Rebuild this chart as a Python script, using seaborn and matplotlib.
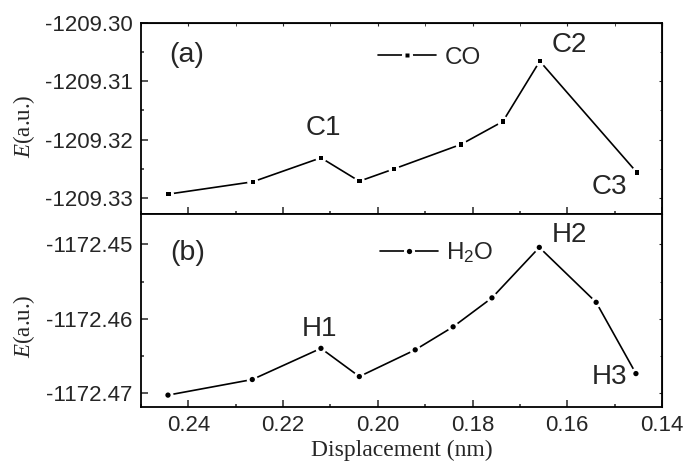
import matplotlib
matplotlib.use("Agg")
import matplotlib.pyplot as plt
from matplotlib.lines import Line2D
from matplotlib.legend_handler import HandlerTuple
from matplotlib.ticker import MultipleLocator, FormatStrFormatter
import seaborn as sns

# displacement (nm) and total energy (a.u.)
co_x = [0.2442, 0.2264, 0.2120, 0.2039, 0.1966, 0.1824, 0.1736, 0.1658, 0.1453]
co_e = [-1209.3293, -1209.3272, -1209.3231, -1209.3271, -1209.3250,
        -1209.3208, -1209.3169, -1209.3066, -1209.3256]
h2o_x = [0.2443, 0.2265, 0.2120, 0.2039, 0.1921, 0.1841, 0.1759, 0.1659, 0.1539, 0.1455]
h2o_e = [-1172.4703, -1172.4682, -1172.4640, -1172.4678, -1172.4642,
         -1172.4611, -1172.4572, -1172.4504, -1172.4578, -1172.4674]
co_tags = {"C1": 2, "C2": 7, "C3": 8}
h2o_tags = {"H1": 2, "H2": 7, "H3": 9}

sns.set_style("white")
plt.rcParams["font.family"] = ["Liberation Sans", "DejaVu Sans"]
plt.rcParams["axes.unicode_minus"] = False
plt.rcParams["mathtext.fontset"] = "custom"
plt.rcParams["mathtext.rm"] = "Liberation Serif"
plt.rcParams["mathtext.it"] = "Liberation Serif:italic"
plt.rcParams["mathtext.sf"] = "Liberation Sans"

fig = plt.figure(figsize=(6.85, 4.71), dpi=100)
ax1 = fig.add_axes([0.2058, 0.5456, 0.7606, 0.4066])
ax2 = fig.add_axes([0.2058, 0.1359, 0.7606, 0.4098], sharex=ax1)

def draw(ax, x, e, mk, msize, tags, offs):
    sns.lineplot(x=x, y=e, color="black", lw=1.2, sort=False, estimator=None, ax=ax)
    sns.scatterplot(x=x, y=e, marker="o", s=64, color="white", edgecolor="none", ax=ax, zorder=3)
    sns.scatterplot(x=x, y=e, marker=mk, s=msize ** 2, color="black", edgecolor="none", ax=ax, zorder=4)
    for (t, i), off in zip(tags.items(), offs):
        ax.annotate(t, (x[i], e[i]), xytext=off, textcoords="offset points",
                    ha="center", va="center", fontsize=20)
    h = (Line2D([], [], color="black", lw=1.2),
         Line2D([], [], ls="none", marker="o", ms=8, mfc="white", mec="none"),
         Line2D([], [], ls="none", marker=mk, ms=msize, mfc="black", mec="none"))
    return h

h1 = draw(ax1, co_x, co_e, "s", 3.2, co_tags, [(1.7, 21.8), (21.5, 11.3), (-19.7, -10.3)])
h2 = draw(ax2, h2o_x, h2o_e, "o", 3.8, h2o_tags, [(-1.2, 14), (22, 9), (-19, -2.7)])

ax1.legend([h1], ["CO"], handler_map={tuple: HandlerTuple(ndivide=1)}, loc="center left",
           bbox_to_anchor=(0.455, 0.816), frameon=False, fontsize=17.5, borderpad=0,
           borderaxespad=0, handlelength=2.4, handletextpad=0.33)
ax2.legend([h2], [r"H$_\mathsf{2}$O"], handler_map={tuple: HandlerTuple(ndivide=1)}, loc="center left",
           bbox_to_anchor=(0.459, 0.80), frameon=False, fontsize=17.5, borderpad=0,
           borderaxespad=0, handlelength=2.4, handletextpad=0.33)

ax1.text(0.087, 0.83, "(a)", transform=ax1.transAxes, ha="center", va="center", fontsize=20.5)
ax2.text(0.090, 0.798, "(b)", transform=ax2.transAxes, ha="center", va="center", fontsize=20.5)

ax1.set_xlim(0.25, 0.14)
ax1.set_ylim(-1209.3327, -1209.30)
ax2.set_ylim(-1172.4719, -1172.4459)

for ax in (ax1, ax2):
    ax.xaxis.set_major_locator(MultipleLocator(0.02))
    ax.xaxis.set_minor_locator(MultipleLocator(0.01))
    ax.yaxis.set_major_locator(MultipleLocator(0.01))
    ax.yaxis.set_minor_locator(MultipleLocator(0.005))
    ax.yaxis.set_major_formatter(FormatStrFormatter("%.2f"))
    ax.xaxis.set_major_formatter(FormatStrFormatter("%.2f"))
    ax.tick_params(which="major", direction="in", length=5, width=1.1, labelsize=16,
                   left=True, bottom=True, top=False, right=False, pad=6)
    ax.tick_params(which="minor", direction="in", length=2.5, width=1.1,
                   left=True, bottom=True, top=False, right=False)
    for s in ax.spines.values():
        s.set_linewidth(1.3)
        s.set_color("black")
    ax.set_xlabel("")
    ax.set_ylabel("")
    sec = ax.secondary_yaxis("right")
    sec.set_yticks(ax.get_yticks())
    sec.tick_params(direction="in", length=2, labelright=False)
    sec.yaxis.set_minor_locator(MultipleLocator(0.005))
    sec.tick_params(which="minor", direction="in", length=1.5)
ax1.tick_params(axis="x", labelbottom=False)
top = ax1.secondary_xaxis("top")
top.xaxis.set_major_locator(MultipleLocator(0.02))
top.xaxis.set_minor_locator(MultipleLocator(0.01))
top.tick_params(which="both", direction="in", length=2, labeltop=False)

fig.text(24 / 685, 1 - 126 / 471, "$E$(a.u.)", rotation=90, ha="center", va="center",
         fontsize=16.5, family="Liberation Serif")
fig.text(24 / 685, 1 - 326.5 / 471, "$E$(a.u.)", rotation=90, ha="center", va="center",
         fontsize=16.5, family="Liberation Serif")
fig.text((141 + 521 / 2) / 685, 1 - 450 / 471, "Displacement (nm)", ha="center", va="center",
         fontsize=17, family="Liberation Serif")

fig.savefig("out.png", dpi=100)
